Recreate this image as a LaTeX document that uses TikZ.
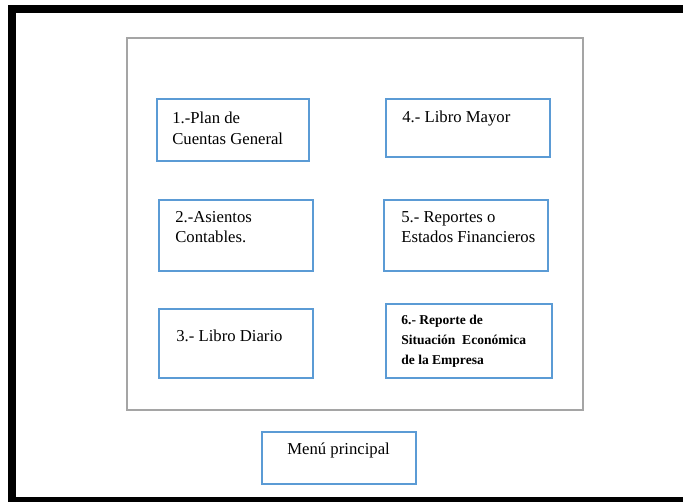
\documentclass[tikz,border=0pt]{standalone}
\usepackage{fontspec}
\setmainfont{Liberation Serif}
\definecolor{boxblue}{RGB}{91,155,213}
\definecolor{panelgray}{RGB}{165,165,165}

\begin{document}
\begin{tikzpicture}[
  x=0.02cm, y=-0.02cm,
  font=\fontsize{9.5}{11.5}\selectfont,
  frame/.style={draw=black, line width=4.5pt},
  panel/.style={draw=panelgray, line width=0.9pt, rectangle,
    anchor=north west, inner sep=0pt, outer sep=0pt,
    minimum width=9.12cm, minimum height=7.44cm},
  menubox/.style={draw=boxblue, line width=1pt, rectangle,
    anchor=north west, inner sep=0pt, outer sep=0pt},
  itemtext/.style={anchor=north west, align=left, inner sep=0pt},
  smalltext/.style={itemtext, font=\fontsize{7.7}{11.2}\selectfont\bfseries}
]
\useasboundingbox (0,0) rectangle (683,502);

% Outer frame, open on the right
\draw[frame] (683,9) -- (12,9) -- (12,501) -- (683,501);

% Panel holding the menu options
\node[panel] (panel) at (127,38) {};

% Left column
\node[menubox, minimum width=3.04cm, minimum height=1.24cm] (plan) at (157,99) {};
\node[itemtext] (plan-t) at ([shift={(15,13)}]plan.north west) {1.-Plan de\\Cuentas General};

\node[menubox, minimum width=3.08cm, minimum height=1.42cm] (asientos) at (159,200) {};
\node[itemtext] (asientos-t) at ([shift={(16,11)}]asientos.north west) {2.-Asientos\\Contables.};

\node[menubox, minimum width=3.08cm, minimum height=1.38cm] (diario) at (159,309) {};
\node[itemtext] (diario-t) at ([shift={(17,21)}]diario.north west) {3.- Libro Diario};

% Right column
\node[menubox, minimum width=3.28cm, minimum height=1.16cm] (mayor) at (386,99) {};
\node[itemtext] (mayor-t) at ([shift={(16,12)}]mayor.north west) {4.- Libro Mayor};

\node[menubox, minimum width=3.28cm, minimum height=1.42cm] (reportes) at (384,200) {};
\node[itemtext] (reportes-t) at ([shift={(17,11)}]reportes.north west) {5.- Reportes o\\Estados Financieros};

\node[menubox, minimum width=3.32cm, minimum height=1.48cm] (situacion) at (386,304) {};
\node[smalltext] (situacion-t) at ([shift={(15,11)}]situacion.north west) {6.- Reporte de\\Situación \ Económica\\de la Empresa};

% Main menu caption
\node[menubox, minimum width=3.08cm, minimum height=1.04cm] (menu) at (262,432) {};
\node[itemtext] (menu-t) at ([shift={(25,11)}]menu.north west) {Menú principal};

\end{tikzpicture}
\end{document}
